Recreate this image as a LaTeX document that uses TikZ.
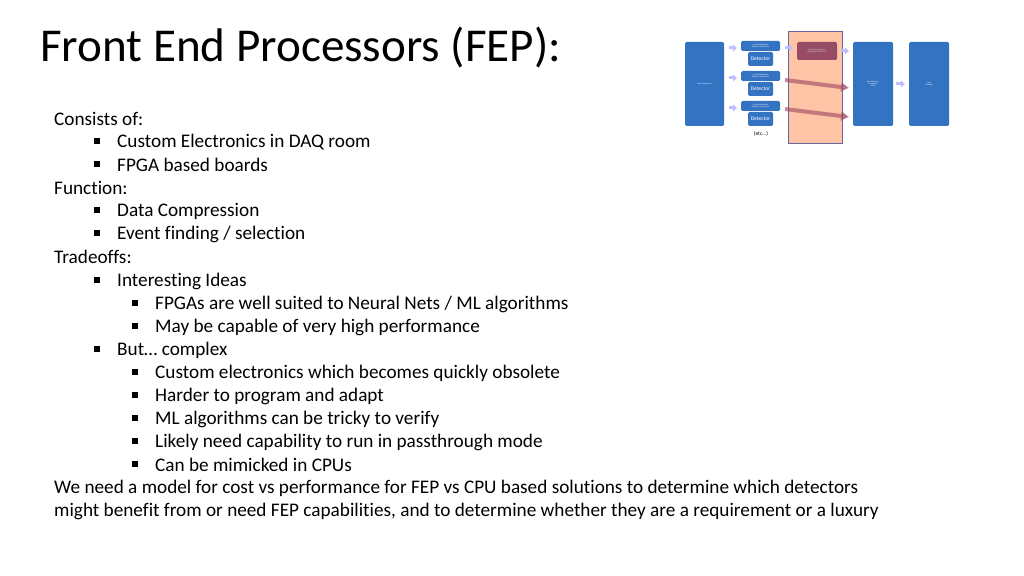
\documentclass[tikz,border=0pt]{standalone}
\usepackage{fontspec}
\setmainfont{Carlito}[Ligatures={NoCommon}]
\usetikzlibrary{arrows.meta}
\tikzset{
  blk/.style={fill=blue!55!cyan!70!black!80, draw=none, rounded corners=1.5pt, text=white, font=\fontsize{2}{2.4}\selectfont, align=center, inner sep=0pt},
  sarr/.style={-{Triangle[length=4bp,width=7bp]}, line width=3bp, draw=blue!25!white},
  larr/.style={-{Triangle[length=8bp,width=9bp]}, line width=4bp, draw=purple!45!gray, opacity=.6},
  item/.style={anchor=west, inner sep=0pt, font=\fontsize{19.3}{22}\selectfont},
  bul/.style={fill=black, minimum size=6bp, inner sep=0pt}
}
\begin{document}
\begin{tikzpicture}[x=1bp,y=-1bp]
\useasboundingbox (0,0) rectangle (1024,576);
% title
\node[anchor=west, inner sep=0pt, font=\fontsize{47.3}{50}\selectfont] (title) at (40,48) {Front End Processors (FEP):};
% bullet list
\foreach \lv/\y/\t [count=\n] in {
  0/119/{Consists of:},
  1/142/{Custom Electronics in DAQ room},
  1/165/{FPGA based boards},
  0/188/{Function:},
  1/211/{Data Compression},
  1/234/{Event finding / selection},
  0/257/{Tradeoffs:},
  1/281/{Interesting Ideas},
  2/304/{FPGAs are well suited to Neural Nets / ML algorithms},
  2/327/{May be capable of very high performance},
  1/350/{But\dots\ complex},
  2/373/{Custom electronics which becomes quickly obsolete},
  2/396/{Harder to program and adapt},
  2/419/{ML algorithms can be tricky to verify},
  2/442/{Likely need capability to run in passthrough mode},
  2/465/{Can be mimicked in CPUs},
  0/488/{We need a model for cost vs performance for FEP vs CPU based solutions to determine which detectors},
  0/511/{might benefit from or need FEP capabilities, and to determine whether they are a requirement or a luxury}}{
  \ifcase\lv
    \node[item] (l\n) at (54,\y) {\t};
  \or
    \node[bul] (b\n) at (97,\y-1) {};
    \node[item] (l\n) at (117,\y) {\t};
  \else
    \node[bul] (b\n) at (135,\y-1) {};
    \node[item] (l\n) at (155,\y) {\t};
  \fi
}
% small system diagram
\fill[red!35!orange!35!white, draw=blue!40!black!60, line width=.8bp] (788,31) rectangle (842,143);
\node[blk, minimum width=39bp, minimum height=84bp] (clk) at (704.5,84) {Clock Distribution};
\foreach \r/\y in {1/46,2/76,3/106}{
  \node[blk, minimum width=39bp, minimum height=10bp] (fe\r) at (760.5,\y) {Front End Readout\\(Detector Electronics)};
  \node[blk, minimum width=25bp, minimum height=14bp, font=\fontsize{5.5}{6}\selectfont] (det\r) at (760.5,\y+13) {Detector};
  \draw[sarr] (729,\y+2) -- (737,\y+2);
}
\node[font=\fontsize{5.5}{6}\selectfont, inner sep=0pt] (etc) at (761,134) {(etc...)};
\node[fill=purple!55!black!70, rounded corners=1.5pt, text=white!80!gray, font=\fontsize{2}{2.4}\selectfont, align=center, minimum width=40bp, minimum height=18bp, inner sep=0pt] (fep) at (817,51) {Front End Processors\\(Optimized FPGA Farm)};
\node[blk, minimum width=40bp, minimum height=84bp] (net) at (873,84) {Data Network /\\Computing\\(CPU)};
\node[blk, minimum width=40bp, minimum height=84bp] (tape) at (929,84) {Tape\\(Storage)};
\draw[sarr] (785,48) -- (793,48);
\draw[sarr] (841,51) -- (849,51);
\draw[sarr] (896,84) -- (905,84);
\draw[larr] (785,80) -- (849,88);
\draw[larr] (785,109) -- (849,117);
\end{tikzpicture}
\end{document}
